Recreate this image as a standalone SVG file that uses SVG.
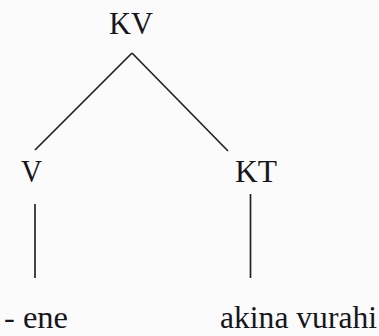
<svg xmlns="http://www.w3.org/2000/svg" width="379" height="336" viewBox="0 0 379 336">
<style>
text{font-family:"Liberation Serif","DejaVu Serif",serif;font-size:32px;fill:#16161c}
.b{font-size:31px}
.e{stroke:#222228;stroke-width:1.7;fill:none}
</style>
<rect width="379" height="336" fill="#fbfbfb"/>
<g id="connectors">
<line class="e" x1="132" y1="53" x2="35" y2="150"/>
<line class="e" x1="132" y1="53" x2="228" y2="151"/>
<line class="e" x1="35" y1="204" x2="35" y2="278"/>
<line class="e" x1="250.5" y1="194" x2="250.5" y2="278"/>
</g>
<g id="node-KV"><text x="109" y="34" textLength="44" lengthAdjust="spacingAndGlyphs">KV</text></g>
<g id="node-V"><text x="21" y="182" textLength="21" lengthAdjust="spacingAndGlyphs">V</text></g>
<g id="node-KT"><text x="235" y="182" textLength="42" lengthAdjust="spacingAndGlyphs">KT</text></g>
<g id="node-ene"><text class="b" x="4" y="328" textLength="64" lengthAdjust="spacingAndGlyphs">- ene</text></g>
<g id="node-akina"><text class="b" x="220" y="328" textLength="157" lengthAdjust="spacingAndGlyphs">akina vurahi</text></g>
</svg>
